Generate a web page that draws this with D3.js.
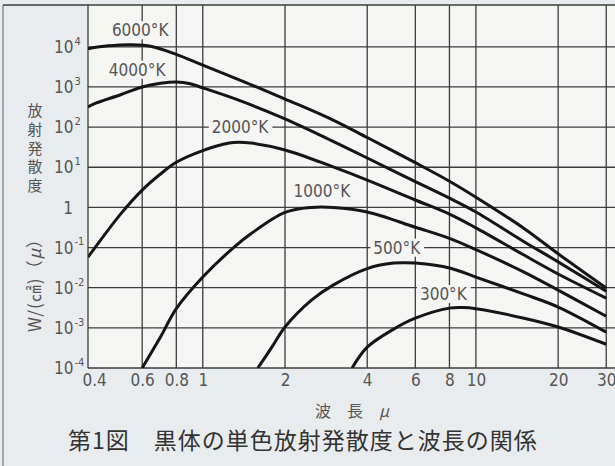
<!DOCTYPE html>
<html>
<head>
<meta charset="utf-8">
<script src="https://d3js.org/d3.v7.min.js"></script>
<style>
  body { margin: 0; background: #e9ecee; }
  svg { display: block; }
</style>
</head>
<body>
<svg id="chart" width="615" height="466"></svg>
<script>
// wavelength ticks (micron) and decade exponents of the emittance axis
const wavelengthTicks = [0.4, 0.6, 0.8, 1, 2, 4, 6, 8, 10, 20, 30];
const exponentTicks = [-4, -3, -2, -1, 0, 1, 2, 3, 4];

// [wavelength, W/cm2/micron]
const w6000 = [[0.38, 9000], [0.45, 10600], [0.55, 11300], [0.65, 10200], [0.8, 6500], [1, 3500], [1.5, 1150], [2, 500], [3, 150], [4, 55], [6, 13], [8, 4.5], [10, 1.8], [15, 0.3], [20, 0.07], [30, 0.0098]];
const w4000 = [[0.38, 316], [0.4, 380], [0.5, 640], [0.6, 1000], [0.7, 1230], [0.8, 1330], [0.9, 1200], [1, 950], [1.33, 490], [2, 160], [3, 44], [4, 17], [6, 4.4], [8, 1.7], [10, 0.77], [15, 0.14], [20, 0.044], [30, 0.0082]];
const w2000 = [[0.38, 0.058], [0.4, 0.093], [0.5, 0.68], [0.6, 2.7], [0.7, 6.8], [0.8, 13.3], [1, 26], [1.25, 40], [1.35, 42], [1.5, 40], [2, 27], [3, 10.2], [4, 4.8], [6, 1.53], [8, 0.68], [10, 0.31], [15, 0.065], [20, 0.022], [30, 0.0055]];
const w1000 = [[0.6, 0.0001], [0.7, 0.00059], [0.8, 0.003], [1, 0.0184], [1.29, 0.097], [1.5, 0.22], [2, 0.75], [2.5, 1.0], [3, 1.0], [4, 0.77], [6, 0.32], [8, 0.17], [10, 0.089], [15, 0.0245], [20, 0.0087], [30, 0.00195]];
const w500 = [[1.59, 0.0001], [1.8, 0.00035], [2, 0.00105], [2.5, 0.0049], [3, 0.0116], [4, 0.03], [5, 0.041], [5.5, 0.042], [6, 0.041], [8, 0.031], [10, 0.0184], [15, 0.0069], [20, 0.0033], [30, 0.00078]];
const w300 = [[3.52, 0.0001], [4, 0.00033], [5, 0.00093], [6, 0.00174], [8, 0.0031], [9, 0.0032], [10, 0.003], [15, 0.00174], [20, 0.00105], [30, 0.00039]];

const curves = [w6000, w4000, w2000, w1000, w500, w300];
const curveLabels = ["6000°K", "4000°K", "2000°K", "1000°K", "500°K", "300°K"];
// where each label sits, in data units
const labelSpots = [[0.59, 26000], [0.575, 2700], [1.37, 100], [2.73, 2.6], [5.13, 0.1], [7.6, 0.007]];

const svg = d3.select("#chart");
const pLeft = 88, pRight = 615, pTop = 5, pBottom = 368;
const plotBg = "#f5f5f4";
const ink = "#555";
const numFont = "'DejaVu Sans Condensed', 'Liberation Sans', sans-serif";
const cjkFont = "'Noto Sans CJK JP', 'Noto Sans', sans-serif";

const x = d3.scaleLog().domain([0.38, 32.3]).range([pLeft, pRight]);
const y = d3.scaleLog().domain([1e-4, 1.1e5]).range([pBottom, pTop]);

// outer frame
svg.append("line").attr("x1", 3).attr("x2", 3).attr("y1", pTop).attr("y2", 466)
  .attr("stroke", "#777").attr("stroke-width", 1.2);
svg.append("rect").attr("x", pLeft).attr("y", pTop).attr("width", pRight - pLeft).attr("height", pBottom - pTop)
  .attr("fill", plotBg);

// grid
const grid = svg.append("g").attr("stroke", "#3c3c3c").attr("stroke-width", 1.3);
grid.selectAll(".h").data(exponentTicks).join("line")
  .attr("x1", pLeft).attr("x2", pRight)
  .attr("y1", d => y(Math.pow(10, d))).attr("y2", d => y(Math.pow(10, d)));
grid.append("line").attr("x1", 3).attr("x2", pRight).attr("y1", pTop).attr("y2", pTop);
grid.append("line").attr("x1", pLeft).attr("x2", pLeft).attr("y1", pTop).attr("y2", pBottom);
grid.selectAll(".v").data(wavelengthTicks.slice(1)).join("line")
  .attr("x1", d => x(d)).attr("x2", d => x(d))
  .attr("y1", pTop).attr("y2", pBottom);

// x tick labels
const xAxis = svg.append("g").attr("transform", `translate(0,${pBottom})`)
  .call(d3.axisBottom(x).tickValues(wavelengthTicks).tickSize(0).tickPadding(6).tickFormat(d => String(d)));
xAxis.select(".domain").remove();
xAxis.selectAll("text").attr("font-family", numFont).attr("font-size", 17).attr("fill", ink);

// y tick labels with superscript exponents
const yLab = svg.append("g").attr("font-family", numFont).attr("fill", ink);
exponentTicks.forEach(e => {
  const t = yLab.append("text").attr("y", y(Math.pow(10, e))).attr("dy", "0.36em").attr("font-size", 17);
  if (e === 0) {
    t.attr("x", 73).attr("text-anchor", "end").text("1");
  } else {
    t.attr("x", 54).text("10");
    t.append("tspan").attr("font-size", 11).attr("dy", "-0.75em").attr("dx", 1).text(e);
  }
});

// curves
svg.append("clipPath").attr("id", "plot").append("rect")
  .attr("x", pLeft).attr("y", pTop).attr("width", pRight - pLeft).attr("height", pBottom - pTop);
const line = d3.line().x(d => x(d[0])).y(d => y(d[1])).curve(d3.curveCatmullRom.alpha(0.5));
svg.append("g").attr("clip-path", "url(#plot)")
  .selectAll("path").data(curves).join("path")
  .attr("d", line).attr("fill", "none").attr("stroke", "#151515").attr("stroke-width", 3);

// curve labels, with a patch of background behind to break the grid
const lab = svg.append("g");
curveLabels.forEach((s, i) => {
  const g = lab.append("g");
  const t = g.append("text").attr("x", x(labelSpots[i][0])).attr("y", y(labelSpots[i][1]))
    .attr("dy", "0.36em").attr("text-anchor", "middle")
    .attr("font-family", numFont).attr("font-size", 17).attr("fill", ink).text(s);
  const b = t.node().getBBox();
  g.insert("rect", "text").attr("x", b.x - 3).attr("y", b.y + 1)
    .attr("width", b.width + 6).attr("height", b.height - 2).attr("fill", plotBg);
});

// y axis title: vertical characters then rotated unit
const yTitle = svg.append("g").attr("font-family", cjkFont).attr("fill", ink);
yTitle.append("text").attr("x", 35).attr("y", 103)
  .style("writing-mode", "vertical-rl").style("text-orientation", "upright")
  .attr("font-size", 15).attr("letter-spacing", 3.7)
  .text("放射発散度");
const unit = yTitle.append("text").attr("transform", "translate(41,281) rotate(-90)")
  .attr("text-anchor", "middle").attr("font-size", 17).attr("letter-spacing", 1);
unit.append("tspan").text("W/(㎠)（");
unit.append("tspan").attr("font-style", "italic").text("μ");
unit.append("tspan").text("）");

// x axis title
const xTitle = svg.append("text").attr("x", 352).attr("y", 417).attr("text-anchor", "middle")
  .attr("font-family", cjkFont).attr("font-size", 16).attr("fill", ink);
xTitle.append("tspan").text("波　長　");
xTitle.append("tspan").attr("font-style", "italic").text("μ");

// caption
svg.append("text").attr("x", 68).attr("y", 449)
  .attr("font-family", cjkFont).attr("font-size", 23).attr("letter-spacing", 1).attr("fill", "#333")
  .text("第1図　黒体の単色放射発散度と波長の関係");
</script>
</body>
</html>
